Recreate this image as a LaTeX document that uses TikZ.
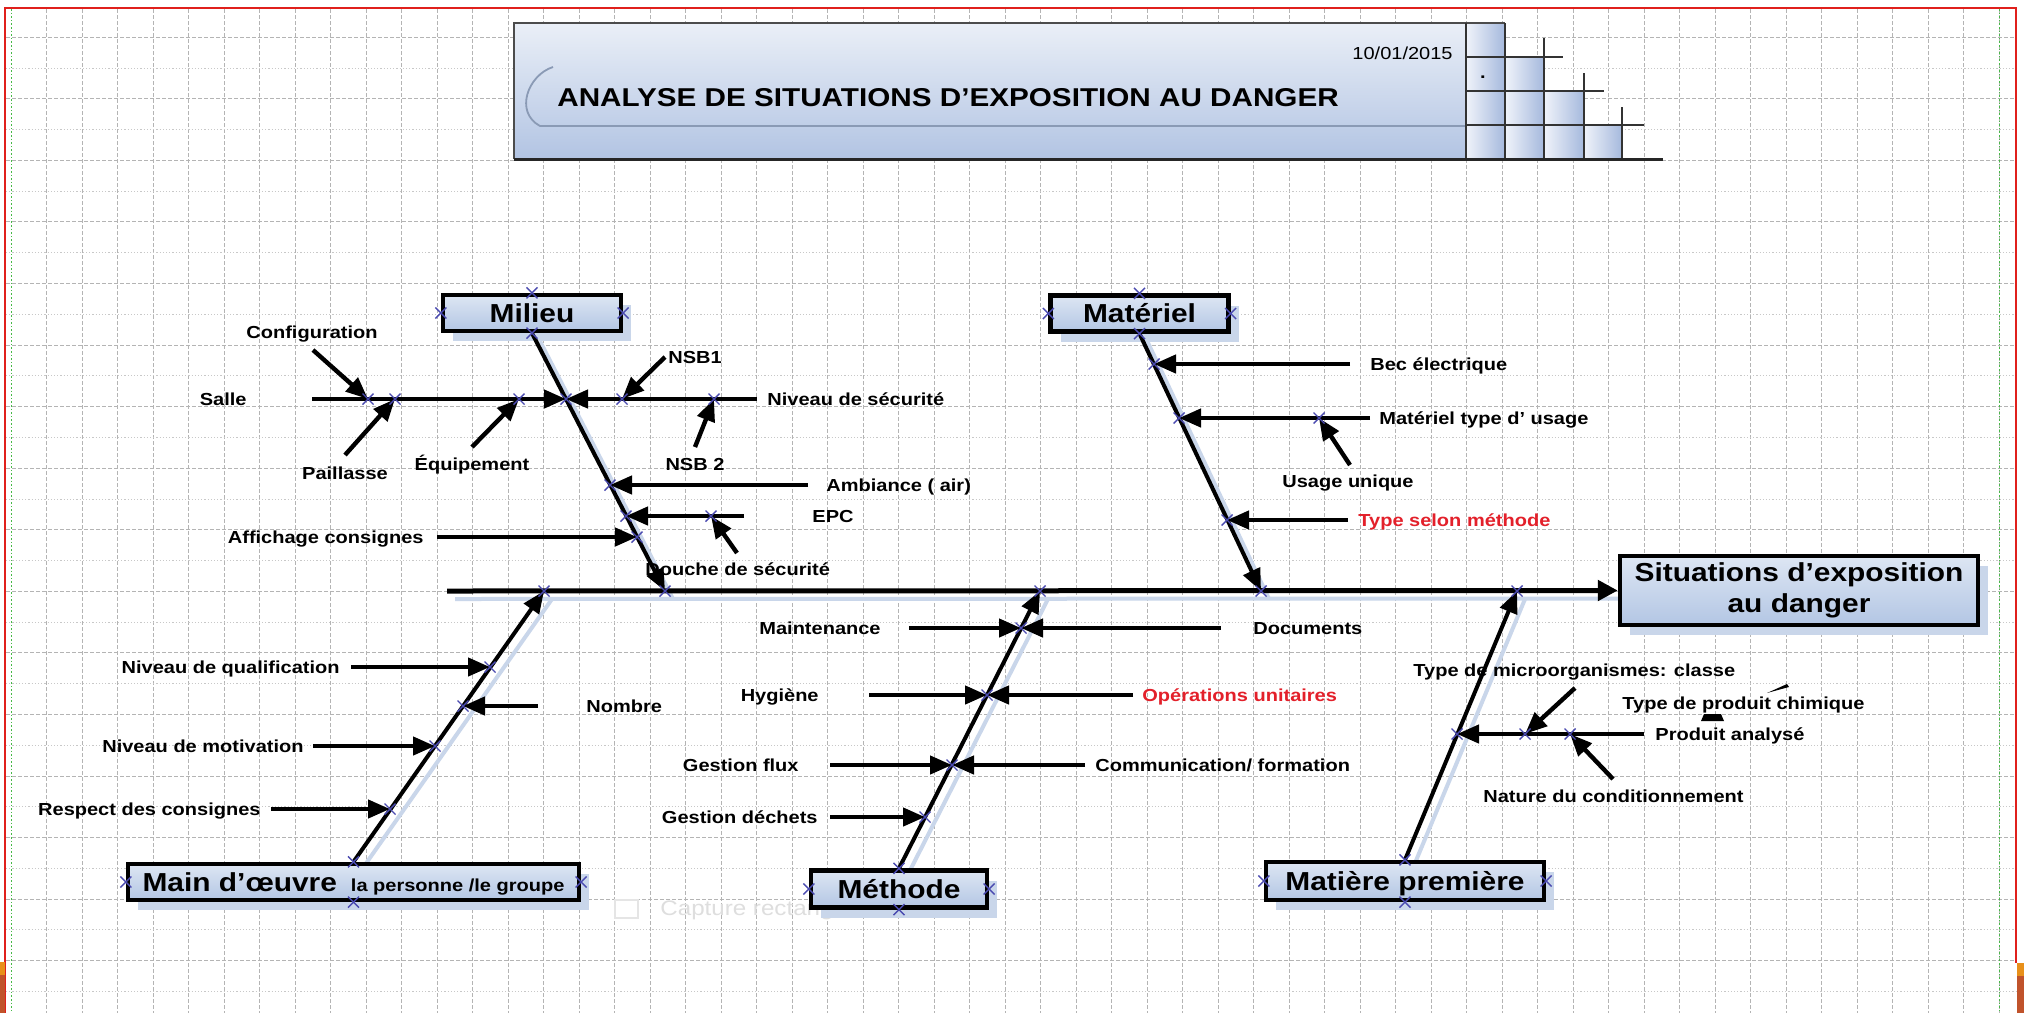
\documentclass[tikz,border=0pt]{standalone}
\usepackage{fontspec}
\setmainfont{Liberation Sans}[FakeStretch=1.15]
\usetikzlibrary{arrows.meta,shapes.misc,shadows}
\pgfdeclarelayer{bg}
\pgfdeclarelayer{fg}
\pgfsetlayers{bg,main,fg}
\definecolor{boxtop}{HTML}{DDE6F3}
\definecolor{boxbot}{HTML}{B3C6E4}
\definecolor{shb}{HTML}{C9D6EA}
\definecolor{gridc}{HTML}{B4B4B4}
\definecolor{gridl}{HTML}{C8C8C8}
\definecolor{redtxt}{HTML}{E3202A}
\definecolor{xcol}{HTML}{4A4AB0}
\definecolor{bordred}{HTML}{E0201C}
\definecolor{bantop}{HTML}{EAEFF7}
\definecolor{banbot}{HTML}{B2C4E3}
\definecolor{stA}{HTML}{F0F3FA}
\definecolor{stB}{HTML}{A5B9DD}
\definecolor{curvec}{HTML}{8A9AB5}
\definecolor{obarA}{HTML}{E8901A}
\definecolor{obarB}{HTML}{C0532B}
\begin{document}
\begin{tikzpicture}[x=0.5pt,y=-0.5pt,
 lab/.style={font=\bfseries\fontsize{8.7}{10.4}\selectfont, inner sep=0pt, text=black},
 labw/.style={lab, anchor=base west},
 labe/.style={lab, anchor=base east},
 labc/.style={lab, anchor=base},
 catbox/.style={draw=black, line width=2.2pt, top color=boxtop, bottom color=boxbot,
   inner sep=0pt, text height=9.3pt, text depth=0pt,
   font=\bfseries\fontsize{13}{15}\selectfont,
   drop shadow={fill=shb, opacity=1, shadow xshift=5pt, shadow yshift=-5pt}},
 bone/.style={line width=2pt, -{Triangle[length=11pt,width=9pt]}},
 spine/.style={line width=2.5pt, -{Triangle[length=10pt,width=10pt]}},
 twig/.style={line width=2.2pt, -{Triangle[length=11pt,width=9pt]}},
 shline/.style={line width=2pt, shb, transform canvas={xshift=4pt, yshift=-4pt}},
 xm/.style={cross out, draw=xcol, line width=0.7pt, minimum size=4.8pt, inner sep=0pt},
 gridv/.style={gridc, line width=0.5pt, dash pattern=on 2pt off 1pt},
 gridM/.style={gridc, line width=0.5pt, dash pattern=on 2pt off 1pt},
 gridm/.style={gridl, line width=0.5pt, dash pattern=on 0.6pt off 1pt},
 stline/.style={black!80, line width=1pt},
]
\useasboundingbox (0,0) rectangle (2024,1013);
% ---------- background grid ----------
\begin{pgfonlayer}{bg}
\fill[white] (0,0) rectangle (2024,1013);
\foreach \k in {0,...,55} {\pgfmathsetmacro\gx{46.7+35.5*\k}
  \draw[gridv] (\gx,9) -- (\gx,1013);}
\foreach \k in {0,...,31} {\pgfmathsetmacro\gy{37.3+30.78*\k}
  \ifodd\k \draw[gridm] (6,\gy) -- (2016,\gy); \else \draw[gridM] (6,\gy) -- (2016,\gy); \fi}
\draw[green!45!gray, line width=0.5pt, dash pattern=on 0.8pt off 1pt] (11,9) -- (11,1013);
\draw[green!45!gray, line width=0.5pt, dash pattern=on 0.8pt off 1pt] (1999,9) -- (1999,1013);
\end{pgfonlayer}
% ---------- page border ----------
\draw[bordred, line width=1.2pt] (5,1013) -- (5,8) -- (2016,8) -- (2016,963);
\fill[obarA] (0,962) rectangle (5,975);
\fill[obarB] (0,975) rectangle (5,1013);
\fill[obarA] (2017,963) rectangle (2024,976);
\fill[obarB] (2017,976) rectangle (2024,1013);
% ---------- banner ----------
\shade[top color=bantop, bottom color=banbot] (514,23) rectangle (1466,159);
\shade[left color=stA, right color=stB] (1466,23) rectangle (1505,159);
\shade[left color=stA, right color=stB] (1505,57) rectangle (1544,159);
\shade[left color=stA, right color=stB] (1544,91) rectangle (1584,159);
\shade[left color=stA, right color=stB] (1584,125) rectangle (1622,159);
\draw[black!70, line width=0.8pt] (1505,23) -- (514,23) -- (514,159);
\draw[curvec, line width=0.9pt] (553,67) .. controls (528,75) and (514,112) .. (540,126) -- (1466,126);
\draw[stline] (1466,23) -- (1466,159);
\draw[stline] (1505,23) -- (1505,159);
\draw[stline] (1466,57) -- (1563,57);
\draw[stline] (1544,38) -- (1544,159);
\draw[stline] (1466,91) -- (1604,91);
\draw[stline] (1584,73) -- (1584,159);
\draw[stline] (1466,125) -- (1644,125);
\draw[stline] (1622,107) -- (1622,159);
\draw[black!85, line width=1.5pt] (514,159) -- (1663,159);
\node[anchor=base west, inner sep=0pt, font=\bfseries\fontsize{12.9}{15}\selectfont] (title) at (557,106.5) {ANALYSE DE SITUATIONS D’EXPOSITION AU DANGER};
\node[anchor=base east, inner sep=0pt, font=\fontsize{8.7}{10}\selectfont] (date) at (1453,59) {10/01/2015};
\node[inner sep=0pt, font=\bfseries\fontsize{8.7}{10}\selectfont] (dot) at (1483,77) {.};
% ---------- faint screen artefact ----------
\draw[black!10, line width=0.8pt] (615,900) rectangle (638,918);
\node[anchor=base west, inner sep=0pt, text=black!13, font=\fontsize{10.5}{12}\selectfont] (capt) at (660,915) {Capture rectangulaire};
% ---------- category boxes ----------
\node[catbox, minimum width=89pt, minimum height=18pt] (mil) at (532,313) {Milieu};
\node[catbox, minimum width=89pt, minimum height=18pt] (mat) at (1139.5,313.5) {Matériel};
\node[catbox, minimum width=225.5pt, minimum height=18pt] (main) at (353.5,882) {Main d’œuvre\hspace{7pt}{\fontsize{8.7}{10}\selectfont la personne /le groupe}};
\node[catbox, minimum width=88pt, minimum height=18.5pt] (met) at (899,889) {Méthode};
\node[catbox, minimum width=139pt, minimum height=19pt] (mp) at (1405,881) {Matière première};
\node[draw=black, line width=2.2pt, top color=boxtop, bottom color=boxbot, inner sep=0pt,
  minimum width=179pt, minimum height=34.5pt, align=center,
  font=\bfseries\fontsize{13}{15.5}\selectfont,
  drop shadow={fill=shb, opacity=1, shadow xshift=5pt, shadow yshift=-5pt}] (sit) at (1799,590.5) {Situations d’exposition\\au danger};
% ---------- connection points ----------
\begin{pgfonlayer}{fg}
\node[xm] (jConf) at (368,399) {};
\node[xm] (jPail) at (395,399) {};
\node[xm] (jEqu) at (519,399) {};
\node[xm] (jMilJ) at (566,399) {};
\node[xm] (jNsb1) at (622,399) {};
\node[xm] (jNsb2) at (714,399) {};
\node[xm] (jAmb) at (610,485) {};
\node[xm] (jEpc) at (626,516) {};
\node[xm] (jDou) at (711,516) {};
\node[xm] (jAff) at (637,537) {};
\node[xm] (jBec) at (1154,364) {};
\node[xm] (jMtu) at (1179,418) {};
\node[xm] (jUu) at (1319,418) {};
\node[xm] (jTsm) at (1227,520) {};
\node[xm] (jQual) at (490,667) {};
\node[xm] (jNomb) at (463,706) {};
\node[xm] (jMot) at (435,746) {};
\node[xm] (jResp) at (390,809) {};
\node[xm] (jMaint) at (1021,628) {};
\node[xm] (jHyg) at (987,695) {};
\node[xm] (jGfl) at (952,765) {};
\node[xm] (jGde) at (925,817) {};
\node[xm] (jProd) at (1457,734) {};
\node[xm] (jMicro) at (1525,734) {};
\node[xm] (jNat) at (1570,734) {};
\node[xm] (jMain) at (544,591) {};
\node[xm] (jMil) at (665,591) {};
\node[xm] (jMet) at (1040,591) {};
\node[xm] (jMat) at (1261,591) {};
\node[xm] (jMp) at (1517,591) {};
\foreach \b in {mil,mat,main,met,mp}
  \foreach \a in {north,south,east,west}
    \node[xm] (x\b\a) at (\b.\a) {};
\end{pgfonlayer}
% ---------- free ends ----------
\coordinate (s0) at (447,591);
\coordinate (salleS) at (312,399);
\coordinate (nivS) at (757,399);
\coordinate (confS) at (313,350);
\coordinate (pailS) at (345,455);
\coordinate (equS) at (472,447);
\coordinate (nsb1S) at (665,357);
\coordinate (nsb2S) at (695,447);
\coordinate (ambS) at (808,485);
\coordinate (epcS) at (744,516);
\coordinate (douS) at (737,553);
\coordinate (affS) at (437,537);
\coordinate (becS) at (1350,364);
\coordinate (mtuS) at (1370,418);
\coordinate (uuS) at (1350,465);
\coordinate (tsmS) at (1348,520);
\coordinate (qualS) at (351,667);
\coordinate (nombS) at (538,706);
\coordinate (motS) at (313,746);
\coordinate (respS) at (271,809);
\coordinate (maintS) at (909,628);
\coordinate (docS) at (1221,628);
\coordinate (hygS) at (869,695);
\coordinate (opuS) at (1133,695);
\coordinate (gflS) at (830,765);
\coordinate (comS) at (1085,765);
\coordinate (gdeS) at (830,817);
\coordinate (prodS) at (1644,734);
\coordinate (microS) at (1575,688);
\coordinate (natS) at (1613,779);
% ---------- line shadows ----------
\begin{pgfonlayer}{bg}
\draw[shline] (s0) -- (sit.west);
\draw[shline] (mil.south) -- (jMil.center);
\draw[shline] (mat.south) -- (jMat.center);
\draw[shline] (main.north) -- (jMain.center);
\draw[shline] (met.north) -- (jMet.center);
\draw[shline] (mp.north) -- (jMp.center);
\end{pgfonlayer}
% ---------- labels ----------
\node[labc] (lconf) at (312,338) {Configuration};
\node[labe] (lsalle) at (247,405) {Salle};
\node[labc] (lpail) at (345,479) {Paillasse};
\node[labc] (lequip) at (472,470) {Équipement};
\node[labw] (lnsb1) at (668,363) {NSB1};
\node[labw] (lniv) at (767,405) {Niveau de sécurité};
\node[labc] (lnsb2) at (695,470) {NSB 2};
\node[labw] (lamb) at (826,491) {Ambiance ( air)};
\node[labw] (lepc) at (812,522) {EPC};
\node[labe] (laff) at (424,543) {Affichage consignes};
\node[labw] (ldouche) at (645,575) {Douche de sécurité};
\node[labw] (lbec) at (1370,370) {Bec électrique};
\node[labw] (lmtu) at (1379,424) {Matériel type d’ usage};
\node[labw] (luu) at (1282,487) {Usage unique};
\node[labw, text=redtxt] (ltsm) at (1358,526) {Type selon méthode};
\node[labe] (lqual) at (340,673) {Niveau de qualification};
\node[labw] (lnomb) at (586,712) {Nombre};
\node[labe] (lmot) at (304,752) {Niveau de motivation};
\node[labe] (lresp) at (261,815) {Respect des consignes};
\node[labe] (lmaint) at (881,634) {Maintenance};
\node[labw] (ldoc) at (1253,634) {Documents};
\node[labe] (lhyg) at (819,701) {Hygiène};
\node[labw, text=redtxt] (lopu) at (1142,701) {Opérations unitaires};
\node[labe] (lgfl) at (799,771) {Gestion flux};
\node[labw] (lcom) at (1095,771) {Communication/ formation};
\node[labe] (lgde) at (818,823) {Gestion déchets};
\node[labw] (lmicro) at (1413,676) {Type de microorganismes: classe};
\node[labw] (lchim) at (1622,709) {Type de produit chimique};
\node[labw] (lprod) at (1655,740) {Produit analysé};
\node[labw] (lnat) at (1483,802) {Nature du conditionnement};
% small stray marks
\fill (1767,693) -- (1787,684) -- (1789,687) -- cycle;
\fill (1704,714) -- (1721,714) -- (1724,721) -- (1701,721) -- cycle;
% ---------- twigs ----------
\draw[twig] (salleS) -- (jMilJ.center);
\draw[twig] (nivS) -- (jMilJ.center);
\draw[twig] (confS) -- (jConf.center);
\draw[twig] (pailS) -- (jPail.center);
\draw[twig] (equS) -- (jEqu.center);
\draw[twig] (nsb1S) -- (jNsb1.center);
\draw[twig] (nsb2S) -- (jNsb2.center);
\draw[twig] (ambS) -- (jAmb.center);
\draw[twig] (epcS) -- (jEpc.center);
\draw[twig] (douS) -- (jDou.center);
\draw[twig] (affS) -- (jAff.center);
\draw[twig] (becS) -- (jBec.center);
\draw[twig] (mtuS) -- (jMtu.center);
\draw[twig] (uuS) -- (jUu.center);
\draw[twig] (tsmS) -- (jTsm.center);
\draw[twig] (qualS) -- (jQual.center);
\draw[twig] (nombS) -- (jNomb.center);
\draw[twig] (motS) -- (jMot.center);
\draw[twig] (respS) -- (jResp.center);
\draw[twig] (maintS) -- (jMaint.center);
\draw[twig] (docS) -- (jMaint.center);
\draw[twig] (hygS) -- (jHyg.center);
\draw[twig] (opuS) -- (jHyg.center);
\draw[twig] (gflS) -- (jGfl.center);
\draw[twig] (comS) -- (jGfl.center);
\draw[twig] (gdeS) -- (jGde.center);
\draw[twig] (prodS) -- (jProd.center);
\draw[twig] (microS) -- (jMicro.center);
\draw[twig] (natS) -- (jNat.center);
% ---------- bones ----------
\draw[bone] (mil.south) -- (jMil.center);
\draw[bone] (mat.south) -- (jMat.center);
\draw[bone] (main.north) -- (jMain.center);
\draw[bone] (met.north) -- (jMet.center);
\draw[bone] (mp.north) -- (jMp.center);
\draw[spine] (s0) -- (sit.west);
\end{tikzpicture}
\end{document}
